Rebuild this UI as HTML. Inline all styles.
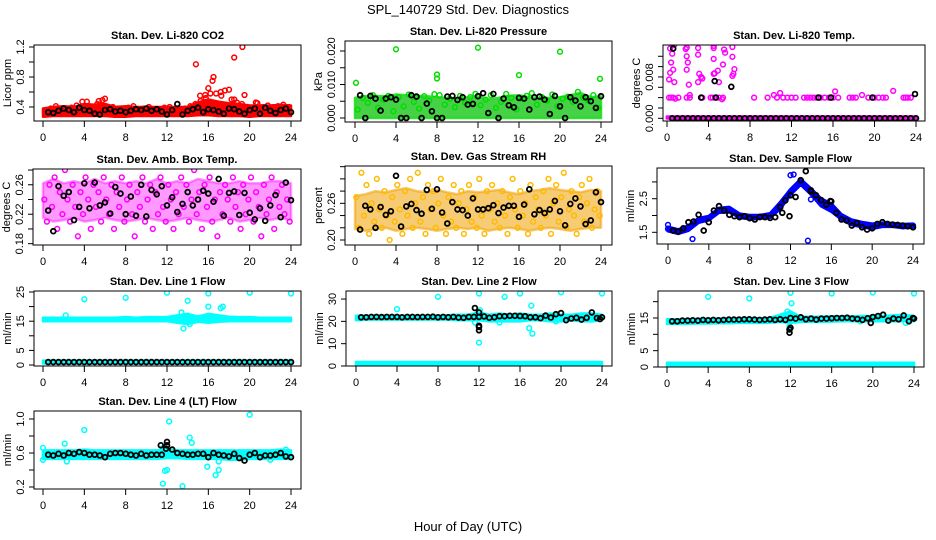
<!DOCTYPE html>
<html><head><meta charset="utf-8">
<style>
html,body{margin:0;padding:0;background:#fff;}
svg{display:block;font-family:"Liberation Sans",Arial,sans-serif;}
</style></head>
<body>
<svg id="chart" width="936" height="540" viewBox="0 0 936 540" xmlns="http://www.w3.org/2000/svg">
<rect x="0" y="0" width="936" height="540" fill="#fff"/>
<text x="468" y="14" font-size="13" text-anchor="middle">SPL_140729  Std. Dev. Diagnostics</text>
<text x="468" y="531" font-size="13" text-anchor="middle">Hour of Day (UTC)</text>
<g id="panels"></g>
</svg>
<script>
// ---------- shared categories ----------
const hours = [0,1,2,3,4,5,6,7,8,9,10,11,12,13,14,15,16,17,18,19,20,21,22,23,24];
const xTicks = [0,4,8,12,16,20,24];
// ---------- P1 CO2 ----------
const co2Lo = [0.27,0.28,0.28,0.28,0.28,0.28,0.28,0.27,0.27,0.28,0.28,0.28,0.28,0.28,0.28,0.29,0.29,0.28,0.28,0.28,0.27,0.28,0.28,0.28,0.28];
const co2Hi = [0.38,0.40,0.41,0.40,0.44,0.43,0.44,0.40,0.41,0.40,0.40,0.40,0.40,0.40,0.40,0.46,0.50,0.47,0.45,0.44,0.42,0.42,0.42,0.43,0.42];
const co2Pts = [0.30,0.38,0.41,0.35,0.33,0.39,0.42,0.36,0.47,0.37,0.44,0.49,0.35,0.40,0.38,0.36,0.39,0.41,0.36,0.38,0.40,0.35,0.37,0.39,0.40,0.36,0.34,0.38,0.41,0.44,0.48,0.52,0.45,0.58,0.55,0.42,0.50,0.46,0.44,0.40,0.38,0.45,0.40,0.42,0.39,0.41,0.43,0.40];
const co2OutX = [14.8,15.7,16.0,16.2,16.4,16.5,17.2,17.6,18.0,18.5,19.3,19.5,18.5,6.0,3.8,20.6,5.4,15.2];
const co2OutY = [0.97,0.56,0.65,0.58,0.75,0.80,0.60,0.62,0.63,1.06,1.20,0.56,0.50,0.51,0.47,0.46,0.48,0.55];
const co2Blk = [0.33,0.32,0.35,0.38,0.36,0.33,0.39,0.36,0.35,0.31,0.30,0.36,0.37,0.34,0.35,0.33,0.35,0.37,0.36,0.38,0.35,0.37,0.34,0.30,0.36,0.44,0.30,0.35,0.37,0.39,0.33,0.37,0.36,0.34,0.31,0.38,0.37,0.34,0.31,0.36,0.38,0.31,0.39,0.35,0.32,0.36,0.38,0.33];
// ---------- P2 Pressure ----------
const presLo = [0,0,0,0,0,0,0,0,0,0,0,0,0,0,0,0,0,0,0,0,0,0,0,0,0];
const presHi = [0.006,0.0065,0.0066,0.0065,0.007,0.0068,0.0066,0.0065,0.0062,0.006,0.0058,0.0062,0.0064,0.0055,0.006,0.0066,0.0068,0.0062,0.006,0.006,0.0062,0.0068,0.0075,0.0062,0.0065];
const presPts = [0.0025,0.006,0.0045,0.0068,0.003,0.0055,0.0066,0.002,0.0062,0.0035,0.0070,0.0048,0.0028,0.0065,0.0052,0.0071,0.0068,0.004,0.0058,0.0032,0.0066,0.0045,0.0062,0.0072,0.0038,0.0055,0.0068,0.003,0.0048,0.0072,0.0060,0.0026,0.0058,0.0066,0.0074,0.0040,0.0062,0.0052,0.0070,0.0035,0.0058,0.0064,0.0048,0.0078,0.0060,0.0052,0.0068,0.0030];
const presOutX = [0.1,4.0,8.0,8.0,12.0,16.0,20.0,23.9];
const presOutY = [0.0105,0.0205,0.0130,0.0118,0.0210,0.0128,0.0198,0.0117];
const presBlk = [0.0068,0.0,0.0066,0.0058,0.0022,0.0058,0.0062,0.0055,0.0,0.0,0.0068,0.0064,0.0,0.0043,0.0020,0.0,0.0,0.0064,0.0066,0.0054,0.0062,0.0040,0.0042,0.0065,0.0074,0.0015,0.0072,0.0,0.0058,0.0038,0.0032,0.0060,0.0058,0.0025,0.0062,0.0064,0.0055,0.0012,0.0066,0.0035,0.0,0.0062,0.0052,0.0035,0.0062,0.0050,0.0030,0.0065];
// ---------- P3 Li-820 Temp ----------
const tmpZero = [0,0,0,0,0,0,0,0,0,0,0,0,0,0,0,0,0,0,0,0,0,0,0,0,0];
const tmpZeroHi = [0.0003,0.0003,0.0003,0.0003,0.0003,0.0003,0.0003,0.0003,0.0003,0.0003,0.0003,0.0003,0.0003,0.0003,0.0003,0.0003,0.0003,0.0003,0.0003,0.0003,0.0003,0.0003,0.0003,0.0003,0.0003];
const tmpRowX = [0.2,0.4,0.6,1.1,1.9,2.2,3.4,4.2,4.4,5.0,5.4,8.4,9.7,10.3,10.6,10.9,11.2,11.6,12.0,12.4,13.2,13.5,13.8,14.1,14.4,14.8,15.2,15.6,16.0,16.5,17.6,17.9,18.2,18.8,19.4,20.0,20.4,20.8,21.1,22.8,23.0,23.2,23.5];
const tmpRowY = [0.004,0.004,0.004,0.004,0.004,0.004,0.004,0.004,0.004,0.004,0.004,0.004,0.004,0.0045,0.004,0.0049,0.004,0.004,0.004,0.004,0.004,0.004,0.004,0.004,0.004,0.004,0.004,0.004,0.004,0.004,0.004,0.004,0.004,0.0045,0.004,0.004,0.004,0.004,0.004,0.004,0.004,0.004,0.004];
const tmpScX = [0.3,0.5,0.4,0.6,0.3,0.2,0.7,0.8,1.8,1.9,2.0,1.9,2.1,2.2,3.0,3.0,3.1,3.3,3.4,3.0,4.5,4.5,4.6,4.5,4.9,5.0,5.5,5.6,5.4,6.3,6.3,6.5,6.4,6.3,5.3,0.7,1.9,4.5,16.2,21.8];
const tmpScY = [0.0135,0.0125,0.0108,0.0094,0.0088,0.0075,0.0070,0.0038,0.0134,0.0120,0.0108,0.0094,0.0065,0.0045,0.0136,0.0123,0.0086,0.0080,0.0077,0.0070,0.0136,0.0115,0.0087,0.0086,0.0092,0.0070,0.0133,0.0127,0.0104,0.0138,0.0119,0.0095,0.0086,0.0082,0.0037,0.0142,0.0137,0.0140,0.0052,0.0053];
const tmpBlk = [0,0,0,0,0,0,0,0,0,0,0,0,0,0,0,0,0,0,0,0,0,0,0,0,0,0,0,0,0,0,0,0,0,0,0,0,0,0,0,0,0,0,0,0,0,0,0,0];
const tmpBlkX = [0.6,3.3,4.6,4.7,6.2,14.6,15.8,19.8,23.9];
const tmpBlkY = [0.0135,0.0040,0.0072,0.0040,0.0061,0.0040,0.0040,0.0040,0.0047];
// ---------- P4 Amb Box Temp ----------
const ambLo = [0.215,0.210,0.212,0.215,0.210,0.212,0.215,0.212,0.210,0.212,0.215,0.212,0.210,0.212,0.215,0.212,0.210,0.212,0.215,0.210,0.212,0.215,0.212,0.215,0.212];
const ambHi = [0.262,0.268,0.262,0.265,0.262,0.268,0.262,0.265,0.262,0.265,0.262,0.268,0.262,0.265,0.262,0.268,0.265,0.262,0.262,0.265,0.262,0.262,0.265,0.265,0.262];
const ambPts = [0.24,0.21,0.26,0.23,0.27,0.20,0.25,0.22,0.28,0.24,0.21,0.26,0.23,0.19,0.25,0.22,0.27,0.24,0.20,0.26,0.23,0.25,0.21,0.27,0.24,0.22,0.26,0.20,0.25,0.23,0.27,0.21,0.24,0.26,0.22,0.19,0.25,0.23,0.27,0.21,0.24,0.26,0.20,0.25,0.22,0.27,0.23,0.21,0.26,0.24,0.20,0.25,0.22,0.27,0.23,0.26,0.21,0.24,0.28,0.22,0.25,0.20,0.26,0.23,0.27,0.21,0.24,0.19,0.25,0.22,0.26,0.24,0.21,0.27,0.23,0.25,0.20,0.26,0.22,0.24,0.27,0.21,0.25,0.23,0.19,0.26,0.22,0.24,0.27,0.20,0.25,0.23,0.26,0.22,0.24,0.21];
const ambBlk = [0.225,0.197,0.258,0.245,0.250,0.212,0.230,0.262,0.228,0.263,0.232,0.236,0.221,0.257,0.248,0.220,0.244,0.218,0.260,0.217,0.253,0.247,0.258,0.232,0.243,0.223,0.234,0.250,0.232,0.240,0.252,0.248,0.237,0.268,0.218,0.249,0.251,0.219,0.249,0.222,0.213,0.228,0.211,0.232,0.246,0.216,0.263,0.239];
// ---------- P5 Gas Stream RH ----------
const rhLo = [0.218,0.215,0.218,0.220,0.215,0.218,0.220,0.218,0.215,0.218,0.220,0.218,0.220,0.215,0.218,0.220,0.218,0.215,0.218,0.220,0.218,0.215,0.218,0.220,0.220];
const rhHi = [0.272,0.275,0.280,0.278,0.282,0.285,0.280,0.278,0.282,0.278,0.275,0.280,0.278,0.280,0.282,0.278,0.275,0.280,0.282,0.285,0.282,0.280,0.278,0.282,0.280];
const rhPts = [0.27,0.22,0.31,0.24,0.29,0.21,0.26,0.23,0.30,0.25,0.22,0.28,0.24,0.20,0.27,0.23,0.29,0.25,0.21,0.28,0.24,0.30,0.22,0.26,0.31,0.23,0.27,0.21,0.29,0.25,0.28,0.22,0.26,0.30,0.24,0.21,0.27,0.23,0.29,0.22,0.26,0.28,0.21,0.25,0.29,0.23,0.27,0.22,0.30,0.24,0.21,0.28,0.25,0.29,0.23,0.26,0.22,0.28,0.24,0.21,0.27,0.30,0.25,0.22,0.28,0.24,0.26,0.21,0.29,0.23,0.27,0.25,0.22,0.28,0.24,0.30,0.21,0.26,0.29,0.23,0.27,0.31,0.22,0.25,0.28,0.24,0.21,0.27,0.29,0.23,0.26,0.30,0.22,0.25,0.28,0.24];
const rhBlk = [0.217,0.256,0.250,0.220,0.254,0.241,0.247,0.305,0.222,0.255,0.259,0.249,0.243,0.282,0.251,0.283,0.245,0.227,0.262,0.250,0.249,0.240,0.268,0.250,0.250,0.252,0.257,0.244,0.253,0.256,0.256,0.238,0.258,0.283,0.242,0.249,0.244,0.250,0.264,0.247,0.224,0.259,0.268,0.255,0.226,0.232,0.278,0.262];
// ---------- P6 Sample Flow ----------
const sfMid = [1.60,1.52,1.62,1.85,1.92,2.15,2.18,2.00,1.95,1.95,2.00,2.30,2.70,3.00,2.72,2.40,2.25,1.95,1.80,1.72,1.65,1.72,1.72,1.68,1.70];
const sfLo = [1.54,1.46,1.55,1.79,1.86,2.09,2.10,1.94,1.89,1.91,1.94,2.20,2.62,2.92,2.63,2.28,2.12,1.88,1.72,1.66,1.61,1.67,1.67,1.63,1.65];
const sfHi = [1.66,1.58,1.70,1.92,1.98,2.22,2.25,2.05,2.01,2.01,2.06,2.40,2.78,3.08,2.80,2.50,2.35,2.03,1.87,1.80,1.75,1.78,1.77,1.74,1.75];
const sfOutX = [2.4,12.0,12.3,13.7,14.0,0.0];
const sfOutY = [1.30,3.20,3.22,1.25,2.48,1.72];
const sfBlk = [1.55,1.52,1.62,1.80,1.82,2.02,1.55,1.80,2.15,2.28,2.15,2.02,1.98,1.95,1.98,1.92,1.88,1.96,1.95,1.93,1.95,2.25,2.45,2.60,2.55,3.05,3.32,2.75,2.60,2.46,2.32,2.42,2.08,1.88,1.85,1.70,1.78,1.65,1.58,1.62,1.75,1.80,1.75,1.73,1.72,1.70,1.68,1.65];
const sfBlkX = [11.2,11.9,14.0,15.9];
const sfBlkY = [2.08,1.98,2.72,2.43];
// ---------- P7 Line 1 Flow ----------
const l1Lo = [15.0,15.0,15.0,15.0,15.0,15.0,15.0,15.0,15.0,15.0,15.0,15.0,15.0,14.5,14.0,14.8,14.5,14.8,15.0,15.0,15.0,15.0,15.0,15.0,15.0];
const l1Hi = [16.2,16.2,16.2,16.2,16.2,16.2,16.2,16.2,16.4,16.2,16.4,16.4,16.4,17.0,17.5,16.6,17.5,17.0,16.5,16.4,16.4,16.2,16.2,16.2,16.2];
const l1RowLo = [0.5,0.5,0.5,0.5,0.5,0.5,0.5,0.5,0.5,0.5,0.5,0.5,0.5,0.5,0.5,0.5,0.5,0.5,0.5,0.5,0.5,0.5,0.5,0.5,0.5];
const l1RowHi = [1.5,1.5,1.5,1.5,1.5,1.5,1.5,1.5,1.5,1.5,1.5,1.5,1.5,1.5,1.5,1.5,1.5,1.5,1.5,1.5,1.5,1.5,1.5,1.5,1.5];
const l1OutX = [4.0,8.0,12.0,14.0,13.4,13.6,16.0,16.0,17.2,17.4,20.0,24.0,4.1,2.2,14.2];
const l1OutY = [22.5,23.0,24.8,22.0,18.0,12.5,24.5,20.0,19.5,20.0,24.8,24.5,-0.3,17.0,14.0];
const l1Blk = [1.0,1.0,1.0,1.0,1.0,1.0,1.0,1.0,1.0,1.0,1.0,1.0,1.0,1.0,1.0,1.0,1.0,1.0,1.0,1.0,1.0,1.0,1.0,1.0,1.0,1.0,1.0,1.0,1.0,1.0,1.0,1.0,1.0,1.0,1.0,1.0,1.0,1.0,1.0,1.0,1.0,1.0,1.0,1.0,1.0,1.0,1.0,1.0];
// ---------- P8 Line 2 Flow ----------
const l2Lo = [20.5,20.8,20.8,20.8,20.8,20.8,20.8,20.8,20.8,20.8,20.5,20.5,20.5,20.0,20.0,20.0,20.0,20.5,20.5,20.0,20.0,20.5,20.0,20.0,20.5];
const l2Hi = [22.5,22.5,22.5,22.5,22.5,22.5,22.5,22.5,22.5,22.8,23.0,23.0,24.0,23.0,23.5,23.0,23.5,23.0,23.0,23.5,23.0,23.0,23.5,23.5,23.0];
const l2RowLo = [0.2,0.2,0.2,0.2,0.2,0.2,0.2,0.2,0.2,0.2,0.2,0.2,0.2,0.2,0.2,0.2,0.2,0.2,0.2,0.2,0.2,0.2,0.2,0.2,0.2];
const l2RowHi = [1.8,1.8,1.8,1.8,1.8,1.8,1.8,1.8,1.8,1.8,1.8,1.8,1.8,1.8,1.8,1.8,1.8,1.8,1.8,1.8,1.8,1.8,1.8,1.8,1.8];
const l2OutX = [4.0,8.0,12.0,14.5,16.0,20.0,24.0,12.0,16.9,17.2,17.1,12.1,11.6,14.0,19.5];
const l2OutY = [25.5,31.0,32.5,31.0,32.5,33.0,32.5,10.5,17.0,14.5,27.0,25.0,19.5,19.5,20.0];
const l2Blk = [21.8,21.8,22.0,22.0,21.9,22.0,22.0,22.0,21.8,22.0,22.0,21.9,22.0,22.0,22.1,21.8,22.0,21.8,22.0,21.7,21.6,22.0,22.0,22.0,22.2,21.6,21.8,22.3,22.3,22.5,22.5,22.4,22.3,21.8,21.8,21.4,22.6,21.7,23.2,23.7,20.5,21.3,21.6,20.8,21.6,24.0,21.5,21.8];
const l2BlkX = [11.6,12.0,12.0,12.0,12.0,23.8];
const l2BlkY = [26.0,24.0,18.0,16.0,17.5,21.0];
// ---------- P9 Line 3 Flow ----------
const l3Lo = [13.2,13.2,13.2,13.3,13.3,13.4,13.4,13.5,13.5,13.5,13.6,13.8,13.5,13.8,13.8,13.8,13.9,14.0,14.0,14.0,14.0,14.0,14.0,14.0,14.0];
const l3Hi = [14.6,14.6,14.6,14.7,14.7,14.8,14.8,14.8,14.9,14.9,15.0,16.0,17.0,15.4,15.4,15.4,15.5,15.5,15.5,15.6,15.6,15.6,15.8,16.0,15.6];
const l3RowLo = [0.1,0.1,0.1,0.1,0.1,0.1,0.1,0.1,0.1,0.1,0.1,0.1,0.1,0.1,0.1,0.1,0.1,0.1,0.1,0.1,0.1,0.1,0.1,0.1,0.1];
const l3RowHi = [1.3,1.3,1.3,1.3,1.3,1.3,1.3,1.3,1.3,1.3,1.3,1.3,1.3,1.3,1.3,1.3,1.3,1.3,1.3,1.3,1.3,1.3,1.3,1.3,1.3];
const l3OutX = [4.0,8.0,12.0,12.1,11.7,16.0,20.0,24.0,11.9,23.2,18.8];
const l3OutY = [21.5,21.0,22.7,19.5,17.0,22.5,22.8,22.5,12.5,13.5,14.0];
const l3Blk = [14.0,14.0,14.2,14.2,14.3,14.2,14.4,14.3,14.4,14.3,14.4,14.5,14.5,14.5,14.6,14.6,14.5,14.4,14.5,14.6,14.4,14.6,14.4,15.0,14.8,15.2,14.6,14.8,14.5,14.8,14.8,14.9,15.0,15.0,15.1,14.8,14.7,14.4,14.9,15.3,15.6,16.0,14.2,14.8,14.6,15.8,14.0,14.8];
const l3BlkX = [11.9,11.9,12.0,19.8,23.9];
const l3BlkY = [11.5,10.5,12.0,13.5,15.0];
// ---------- P10 Line 4 (LT) Flow ----------
const l4Lo = [0.53,0.53,0.53,0.53,0.53,0.53,0.53,0.53,0.53,0.53,0.53,0.53,0.54,0.54,0.53,0.53,0.53,0.53,0.52,0.52,0.53,0.53,0.53,0.53,0.53];
const l4Hi = [0.63,0.63,0.63,0.63,0.64,0.63,0.63,0.63,0.63,0.63,0.63,0.63,0.64,0.63,0.63,0.63,0.63,0.63,0.63,0.63,0.63,0.63,0.63,0.64,0.63];
const l4OutX = [0.0,0.0,2.1,2.3,4.0,11.6,11.8,12.0,12.2,13.5,14.2,14.4,15.9,16.7,17.0,17.0,20.0,22.0,23.5,11.6,12.0];
const l4OutY = [0.52,0.66,0.71,0.50,0.87,0.24,0.39,0.40,0.97,0.21,0.78,0.72,0.44,0.34,0.40,0.50,1.05,0.52,0.64,0.66,0.62];
const l4Blk = [0.58,0.57,0.59,0.57,0.60,0.59,0.61,0.60,0.58,0.58,0.57,0.55,0.59,0.60,0.60,0.59,0.58,0.57,0.59,0.57,0.58,0.58,0.58,0.69,0.64,0.60,0.59,0.58,0.58,0.59,0.59,0.55,0.60,0.58,0.57,0.56,0.59,0.54,0.51,0.58,0.60,0.55,0.57,0.57,0.58,0.60,0.56,0.55];
const l4BlkX = [11.4,11.9,12.0];
const l4BlkY = [0.69,0.65,0.73];

const NS = "http://www.w3.org/2000/svg";
const root = document.getElementById('panels');
function mk(tag, attrs, parent){ const e=document.createElementNS(NS,tag); for(const k in attrs) e.setAttribute(k,attrs[k]); (parent||root).appendChild(e); return e; }

function drawPanel(p){
  const g = mk('g',{});
  
  
  const xs = v => p.x0 + (v/24)*(p.x24-p.x0);
  const ys = v => p.b - (v-p.ymin)/(p.ymax-p.ymin)*(p.b-p.t);
  const clip = 'clip-'+p.name;
  const cp = mk('clipPath',{id:clip},g); mk('rect',{x:p.l,y:p.t,width:p.r-p.l,height:p.b-p.t},cp);
  const plot = mk('g',{'clip-path':'url(#'+clip+')'},g);
  (p.bands||[]).forEach(bd=>{
    let d='';
    hours.forEach((h,i)=>{ d += (i?'L':'M')+xs(h).toFixed(1)+' '+ys(bd.hi[i]).toFixed(1); });
    for(let i=hours.length-1;i>=0;i--) d += 'L'+xs(hours[i]).toFixed(1)+' '+ys(bd.lo[i]).toFixed(1);
    d+='Z';
    const a = mk('path',{d:d,fill:bd.fill,stroke:bd.stroke||bd.fill,'stroke-width':bd.sw||2.5,'stroke-linejoin':'round','fill-opacity':bd.op||1,'stroke-opacity':bd.op||1},plot);
    
    
  });
  const circ = (x,y,col,w)=>{ const c=mk('circle',{cx:xs(x).toFixed(1),cy:ys(y).toFixed(1),r:2.4,fill:'none',stroke:col,'stroke-width':w||1.5},plot);
    
     };
  (p.pts||[]).forEach(s=>{ s.v.forEach((v,i)=>circ(s.start+i*s.step,v,p.color)); });
  (p.pairs||[]).forEach(s=>{ s.x.forEach((x,i)=>circ(x,s.y[i],p.color)); });
  if(p.blk) p.blk.forEach((v,i)=>circ(0.5+i*0.5,v,'#000',1.8));
  if(p.blkPairs) p.blkPairs.x.forEach((x,i)=>circ(x,p.blkPairs.y[i],'#000',1.8));
  const bx = mk('rect',{x:p.l,y:p.t,width:p.r-p.l,height:p.b-p.t,fill:'none',stroke:'#000','stroke-width':1},g);
  
  
  mk('line',{x1:xs(0),x2:xs(24),y1:p.b,y2:p.b,stroke:'#000'},g);
  xTicks.forEach(t=>{
    mk('line',{x1:xs(t),x2:xs(t),y1:p.b,y2:p.b+6,stroke:'#000'},g);
    const tx = mk('text',{x:xs(t),y:p.b+20,'font-size':11,'text-anchor':'middle'},g);
    tx.textContent = t;
    
    
  });
  p.yt.forEach(t=>{
    mk('line',{x1:p.l-5,x2:p.l,y1:ys(t),y2:ys(t),stroke:'#000'},g);
  });
  p.yl.forEach(lab=>{
    const yy = ys(parseFloat(lab));
    const tx = mk('text',{x:0,y:0,'font-size':11,'text-anchor':'middle',transform:'translate('+(p.l-10)+','+yy.toFixed(1)+') rotate(-90)'},g);
    tx.textContent = lab;
    
    
  });
  const yt = mk('text',{x:0,y:0,'font-size':11,'text-anchor':'middle',transform:'translate('+(p.l-23)+','+((p.t+p.b)/2)+') rotate(-90)'},g);
  yt.textContent = p.ylab;
  
  
  const tt = mk('text',{x:(p.l+p.r)/2,y:p.t-6,'font-size':11,'font-weight':'bold','text-anchor':'middle'},g);
  tt.textContent = p.title;
  
  
}

const panels = [
 {name:'panel-co2',title:'Stan. Dev. Li-820 CO2',ylab:'Licor ppm',color:'#ff0000',l:34,r:301,t:45,b:121,x0:43,x24:291,ymin:0.2133,ymax:1.2267,
  yt:[0.4,0.6,0.8,1.0,1.2],yl:['0.4','0.8','1.2'],
  bands:[{lo:co2Lo,hi:co2Hi,fill:'#ff0000'}],pts:[{v:co2Pts,start:0.25,step:0.5}],pairs:[{x:co2OutX,y:co2OutY}],blk:co2Blk},
 {name:'panel-pressure',title:'Stan. Dev. Li-820 Pressure',ylab:'kPa',color:'#00dd00',l:345,r:612,t:41,b:122,x0:355,x24:601,ymin:-0.0012,ymax:0.02299,
  yt:[0,0.005,0.01,0.015,0.02],yl:['0.000','0.010','0.020'],
  bands:[{lo:presLo,hi:presHi,fill:'#33cc33',stroke:'#22dd22',op:0.9}],pts:[{v:presPts,start:0.25,step:0.5}],pairs:[{x:presOutX,y:presOutY}],blk:presBlk},
 {name:'panel-li820-temp',title:'Stan. Dev. Li-820 Temp.',ylab:'degrees C',color:'#ff00ff',l:663,r:925,t:45,b:121,x0:667,x24:916,ymin:-0.00052,ymax:0.01418,
  yt:[0,0.002,0.004,0.006,0.008,0.010,0.012],yl:['0.000','0.008'],
  bands:[{lo:tmpZero,hi:tmpZeroHi,fill:'#ff00ff',sw:3}],pairs:[{x:tmpRowX,y:tmpRowY},{x:tmpScX,y:tmpScY}],blk:tmpBlk,blkPairs:{x:tmpBlkX,y:tmpBlkY}},
 {name:'panel-amb-box-temp',title:'Stan. Dev. Amb. Box Temp.',ylab:'degrees C',color:'#ff00ff',l:33,r:301,t:169,b:245,x0:43,x24:291,ymin:0.1782,ymax:0.2814,
  yt:[0.18,0.20,0.22,0.24,0.26,0.28],yl:['0.18','0.22','0.26'],
  bands:[{lo:ambLo,hi:ambHi,fill:'#ff00ff',op:0.4}],pts:[{v:ambPts,start:0.125,step:0.25}],blk:ambBlk},
 {name:'panel-gas-rh',title:'Stan. Dev. Gas Stream RH',ylab:'percent',color:'#ffbb00',l:345,r:612,t:166,b:245,x0:355,x24:601,ymin:0.1918,ymax:0.3211,
  yt:[0.20,0.22,0.24,0.26,0.28,0.30,0.32],yl:['0.20','0.26'],
  bands:[{lo:rhLo,hi:rhHi,fill:'#f0a000',op:0.55}],pts:[{v:rhPts,start:0.125,step:0.25}],blk:rhBlk},
 {name:'panel-sample-flow',title:'Stan. Dev. Sample Flow',ylab:'ml/min',color:'#0000ff',l:657,r:924,t:168,b:244,x0:668,x24:913,ymin:1.152,ymax:3.414,
  yt:[1.5,2.0,2.5,3.0],yl:['1.5','2.5'],
  bands:[{lo:sfLo,hi:sfHi,fill:'#0000ff',sw:3}],pts:[{v:sfMid,start:0,step:1}],pairs:[{x:sfOutX,y:sfOutY}],blk:sfBlk,blkPairs:{x:sfBlkX,y:sfBlkY}},
 {name:'panel-line1-flow',title:'Stan. Dev. Line 1 Flow',ylab:'ml/min',color:'#00ffff',l:34,r:301,t:291,b:366,x0:43,x24:291,ymin:-0.34,ymax:25.34,
  yt:[0,5,10,15,20,25],yl:['0','5','15','25'],
  bands:[{lo:l1Lo,hi:l1Hi,fill:'#00ffff'},{lo:l1RowLo,hi:l1RowHi,fill:'#00ffff'}],pairs:[{x:l1OutX,y:l1OutY}],blk:l1Blk},
 {name:'panel-line2-flow',title:'Stan. Dev. Line 2 Flow',ylab:'ml/min',color:'#00ffff',l:346,r:612,t:291,b:366,x0:356,x24:602,ymin:0,ymax:33.6,
  yt:[0,10,20,30],yl:['0','10','20','30'],
  bands:[{lo:l2Lo,hi:l2Hi,fill:'#00ffff'},{lo:l2RowLo,hi:l2RowHi,fill:'#00ffff'}],pairs:[{x:l2OutX,y:l2OutY}],blk:l2Blk,blkPairs:{x:l2BlkX,y:l2BlkY}},
 {name:'panel-line3-flow',title:'Stan. Dev. Line 3 Flow',ylab:'ml/min',color:'#00ffff',l:658,r:924,t:291,b:367,x0:667,x24:914,ymin:0,ymax:23.26,
  yt:[0,5,10,15,20],yl:['0','5','15'],
  bands:[{lo:l3Lo,hi:l3Hi,fill:'#00ffff'},{lo:l3RowLo,hi:l3RowHi,fill:'#00ffff'}],pairs:[{x:l3OutX,y:l3OutY}],blk:l3Blk,blkPairs:{x:l3BlkX,y:l3BlkY}},
 {name:'panel-line4-flow',title:'Stan. Dev. Line 4 (LT) Flow',ylab:'ml/min',color:'#00ffff',l:34,r:301,t:411,b:489,x0:43,x24:291,ymin:0.1765,ymax:1.094,
  yt:[0.2,0.4,0.6,0.8,1.0],yl:['0.2','0.6','1.0'],
  bands:[{lo:l4Lo,hi:l4Hi,fill:'#00ffff'}],pairs:[{x:l4OutX,y:l4OutY}],blk:l4Blk,blkPairs:{x:l4BlkX,y:l4BlkY}}
];
panels.forEach(drawPanel);
</script>
</body></html>
